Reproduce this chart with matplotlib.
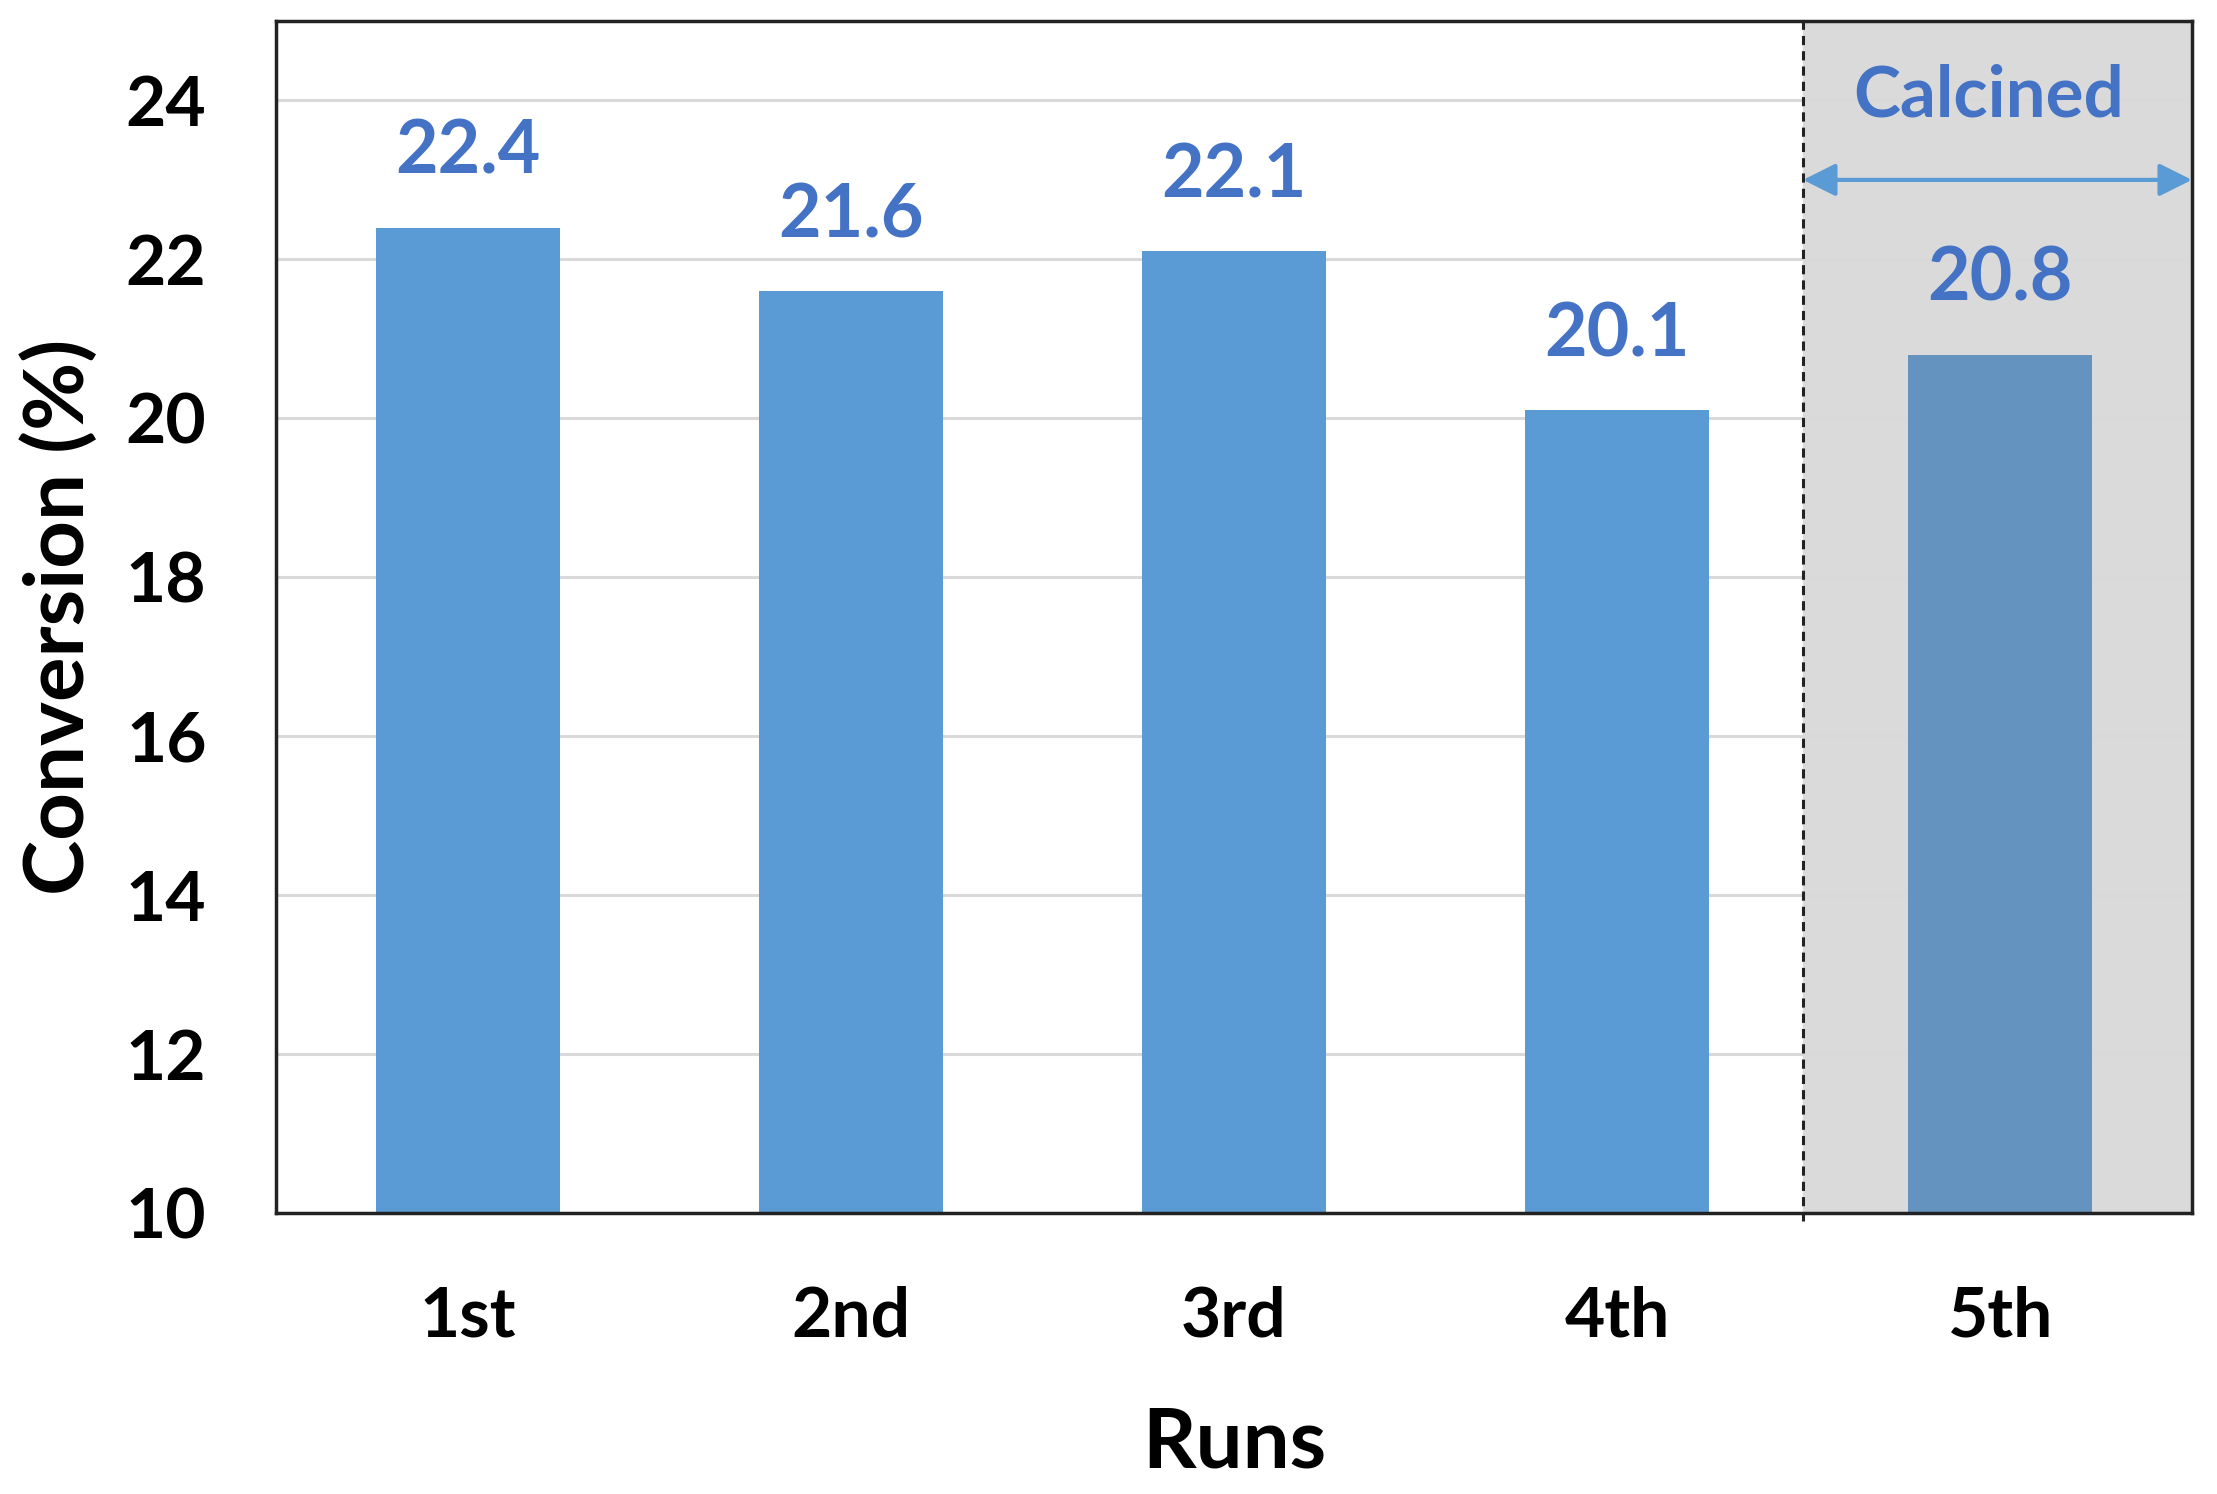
import matplotlib

matplotlib.use("Agg")
import matplotlib.pyplot as plt
import numpy as np

# ---- data ------------------------------------------------------------------
RUNS = ["1st", "2nd", "3rd", "4th", "5th"]
CONVERSION = [22.4, 21.6, 22.1, 20.1, 20.8]
CALCINED_IDX = 4  # the last run is on calcined catalyst

BAR_BLUE = "#5B9BD5"
CALC_BLUE = "#6493BF"
LABEL_BLUE = "#4472C4"
SHADE = "#DADADA"

plt.rcParams["font.family"] = ["Lato", "DejaVu Sans"]
plt.rcParams["font.weight"] = "bold"

fig = plt.figure(figsize=(22.17, 14.94), dpi=100)
ax = fig.add_axes([0.1245, 0.188, 0.8642, 0.798])

x = np.arange(len(RUNS))
colors = [CALC_BLUE if i == CALCINED_IDX else BAR_BLUE for i in x]
split = CALCINED_IDX - 0.515  # divider sits just left of the category edge

# shaded "calcined" region behind the last bar
ax.axvspan(split, CALCINED_IDX + 0.5, color=SHADE, zorder=0)
ax.yaxis.grid(True, color="#D9D9D9", linewidth=2.2, zorder=1)
ax.set_axisbelow(True)

ax.bar(x, CONVERSION, width=0.48, color=colors, zorder=2)

for xi, v in zip(x, CONVERSION):
    ax.text(xi, v + 0.95, f"{v:.1f}", ha="center", va="center",
            color=LABEL_BLUE, fontsize=53, fontweight="bold")

# dashed divider before the calcined run
ax.plot([split, split], [9.9, 25], color="#222222",
        linestyle=(0, (3, 2)), linewidth=2.2, clip_on=False, zorder=3)

ax.annotate("", xy=(split, 23.0), xytext=(CALCINED_IDX + 0.5, 23.0),
            arrowprops=dict(arrowstyle="<|-|>", color=BAR_BLUE, lw=3,
                            mutation_scale=50, shrinkA=0, shrinkB=0), zorder=4)
ax.text(CALCINED_IDX - 0.03, 24.05, "Calcined", ha="center", va="center",
        color=LABEL_BLUE, fontsize=51, fontweight="bold")

ax.set_xlim(-0.5, len(RUNS) - 0.5)
ax.set_ylim(10, 25)
ax.set_yticks(np.arange(10, 25, 2))
ax.set_xticks(x, RUNS)
ax.tick_params(axis="both", length=0, labelsize=50)
ax.tick_params(axis="y", pad=50)
ax.tick_params(axis="x", pad=52)
for lab in ax.get_xticklabels() + ax.get_yticklabels():
    lab.set_fontweight("bold")

for sp in ax.spines.values():
    sp.set_linewidth(2.5)
    sp.set_color("#222222")

ax.set_xlabel("Runs", fontsize=60, fontweight="bold", labelpad=42)
ax.set_ylabel("Conversion (%)", fontsize=60, fontweight="bold", labelpad=20)

fig.savefig("out.png", dpi=100)
